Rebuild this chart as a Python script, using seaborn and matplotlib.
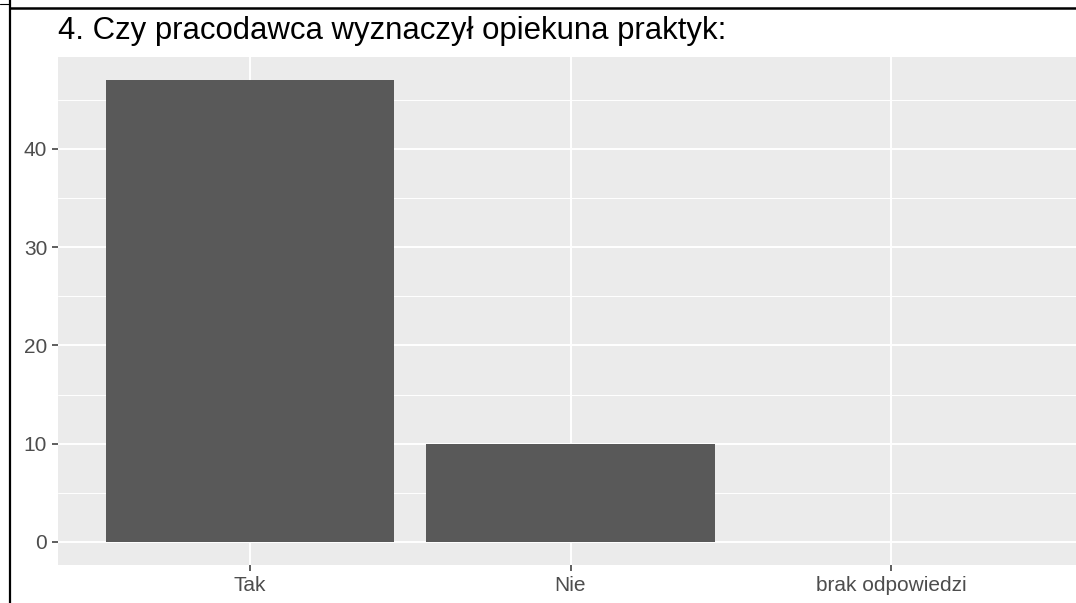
import matplotlib
matplotlib.use("Agg")
import matplotlib.pyplot as plt
import seaborn as sns
import pandas as pd
from matplotlib.lines import Line2D
from matplotlib.ticker import MultipleLocator

# odpowiedzi na pytanie 4
categories = ["Tak", "Nie", "brak odpowiedzi"]
counts = [47, 10, 0]
y_ticks = [0, 10, 20, 30, 40]

title = "4. Czy pracodawca wyznaczył opiekuna praktyk:"

sns.set_style("white")
plt.rcParams['font.family'] = ['Liberation Sans', 'DejaVu Sans']

W, H = 1076, 603
fig = plt.figure(figsize=(W / 100, H / 100), dpi=100)
ax = fig.add_axes([58 / W, (H - 565) / H, (1083 - 58) / W, (565 - 57) / H])

df = pd.DataFrame({"odp": categories, "n": counts})
sns.barplot(data=df, x="odp", y="n", order=categories, color="#595959",
            saturation=1, width=0.9, linewidth=0, ax=ax)

ax.set_facecolor("#EBEBEB")
for s in ax.spines.values():
    s.set_visible(False)
ax.set_xlim(-0.6, 2.6)
ax.set_ylim(-2.35, 49.35)
ax.set_yticks(y_ticks)
ax.yaxis.set_minor_locator(MultipleLocator(5))
ax.grid(True, which="major", color="white", linewidth=1.4)
ax.grid(True, which="minor", axis="y", color="white", linewidth=0.7)
ax.set_axisbelow(True)
ax.tick_params(axis="both", which="major", bottom=True, left=True,
               length=4.3, width=1.1, color="#333333",
               labelcolor="#4D4D4D", labelsize=15, pad=3.5)
ax.tick_params(axis="y", which="minor", length=0)
ax.set_xlabel("")
ax.set_ylabel("")

fig.text(58 / W, 1 - 38.5 / H, title, fontsize=22.4, color="black",
         ha="left", va="baseline")

# ramka tabeli dookoła wykresu
fig.add_artist(Line2D([10 / W, 1], [1 - 7.5 / H, 1 - 7.5 / H], color="black", linewidth=1.8))
fig.add_artist(Line2D([9.5 / W, 9.5 / W], [0, 1], color="black", linewidth=1.6))
fig.add_artist(Line2D([0, 9.5 / W], [1 - 4.3 / H, 1 - 4.3 / H], color="black", linewidth=0.8))

fig.savefig("out.png", dpi=100)
